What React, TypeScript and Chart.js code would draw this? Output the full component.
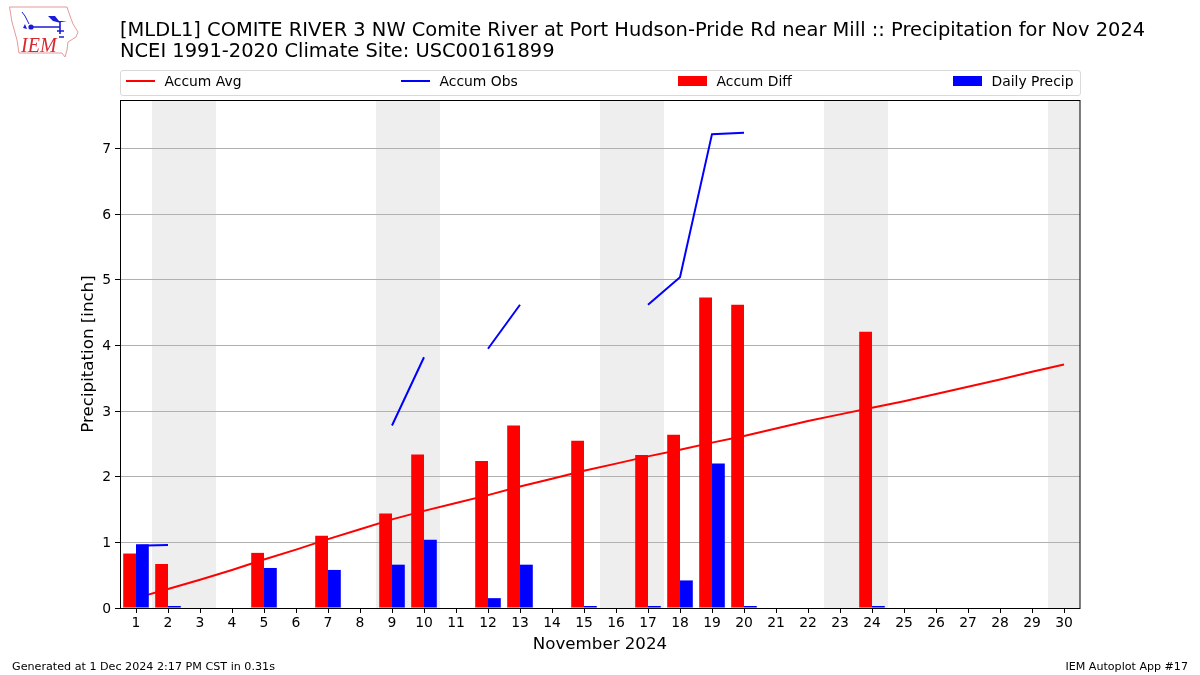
import React, { useEffect, useRef } from "react";
import { Chart, registerables } from "chart.js";

Chart.register(...registerables);

const days = Array.from({ length: 30 }, (_, i) => String(i + 1));
const weekendDays = [2, 3, 9, 10, 16, 17, 23, 24, 30];
const accumAvg = [0.15, 0.29, 0.43, 0.58, 0.74, 0.89, 1.05, 1.2, 1.35, 1.48, 1.6, 1.72, 1.85, 1.97, 2.09, 2.2, 2.31, 2.41, 2.52, 2.62, 2.735, 2.85, 2.95, 3.05, 3.15, 3.26, 3.37, 3.48, 3.6, 3.71];
const accumObs = [0.95, 0.96, null, null, null, null, null, null, 2.78, 3.82, null, 3.95, 4.62, null, null, null, 4.62, 5.04, 7.22, 7.24, null, null, null, null, null, null, null, null, null, null];
const accumDiff = [0.83, 0.67, null, null, 0.84, null, 1.1, null, 1.44, 2.34, null, 2.24, 2.78, null, 2.55, null, 2.33, 2.64, 4.73, 4.62, null, null, null, 4.21, null, null, null, null, null, null];
const dailyPrecip = [0.97, 0.01, null, null, 0.61, null, 0.58, null, 0.66, 1.04, null, 0.15, 0.66, null, 0.01, null, 0.01, 0.42, 2.2, 0.01, null, null, null, 0.01, null, null, null, null, null, null];
const yMax = 7.74;
const yTicks = [0, 1, 2, 3, 4, 5, 6, 7];

const FONT = "'DejaVu Sans'";
const titleLines = [
  "[MLDL1] COMITE RIVER 3 NW Comite River at Port Hudson-Pride Rd near Mill :: Precipitation for Nov 2024",
  "NCEI 1991-2020 Climate Site: USC00161899",
];
const legendItems = [
  { label: "Accum Avg", color: "#ff0000", kind: "line", left: 5 },
  { label: "Accum Obs", color: "#0000ff", kind: "line", left: 280 },
  { label: "Accum Diff", color: "#ff0000", kind: "bar", left: 557 },
  { label: "Daily Precip", color: "#0000ff", kind: "bar", left: 832 },
];

const shadePlugin = {
  id: "shade",
  beforeDraw(chart: any) {
    const { ctx, chartArea, scales } = chart;
    const step = scales.x.getPixelForValue(1) - scales.x.getPixelForValue(0);
    ctx.save();
    ctx.fillStyle = "#eeeeee";
    weekendDays.forEach((d) => {
      const c = scales.x.getPixelForValue(d - 1);
      const l = Math.max(c - step / 2, chartArea.left);
      const r = Math.min(c + step / 2, chartArea.right);
      ctx.fillRect(l, chartArea.top, r - l, chartArea.bottom - chartArea.top);
    });
    ctx.restore();
  },
  afterDraw(chart: any) {
    const { ctx, chartArea: a } = chart;
    ctx.save();
    ctx.strokeStyle = "#000";
    ctx.lineWidth = 1;
    ctx.strokeRect(a.left + 0.5, a.top + 0.5, a.right - a.left - 0.5, a.bottom - a.top);
    ctx.restore();
  },
};

export default function App() {
  const ref = useRef<HTMLCanvasElement>(null);
  useEffect(() => {
    const chart = new Chart(ref.current as HTMLCanvasElement, {
      type: "bar",
      data: {
        labels: days,
        datasets: [
          { type: "line", label: "Accum Avg", data: accumAvg, borderColor: "#ff0000", borderWidth: 2, pointRadius: 0, order: 2, spanGaps: false },
          { type: "line", label: "Accum Obs", data: accumObs, borderColor: "#0000ff", borderWidth: 2, pointRadius: 0, order: 2, spanGaps: false },
          { type: "bar", label: "Accum Diff", data: accumDiff, backgroundColor: "#ff0000", categoryPercentage: 0.8, barPercentage: 1, order: 1 },
          { type: "bar", label: "Daily Precip", data: dailyPrecip, backgroundColor: "#0000ff", categoryPercentage: 0.8, barPercentage: 1, minBarLength: 2, order: 1 },
        ] as any,
      },
      options: {
        responsive: false,
        animation: false,
        layout: { padding: { left: 79, right: 120, top: 100, bottom: 20 } },
        plugins: { legend: { display: false }, title: { display: false }, tooltip: { enabled: false } },
        scales: {
          x: {
            type: "category",
            offset: true,
            afterFit: (s: any) => { s.height = 47; },
            border: { display: false },
            grid: { offset: false, drawOnChartArea: false, drawTicks: true, tickLength: 5, color: "#000" },
            ticks: { color: "#000", font: { family: FONT, size: 13.9 }, padding: 2, maxRotation: 0, autoSkip: false },
            title: { display: true, text: "November 2024", color: "#000", font: { family: FONT, size: 16.67 }, padding: 0 },
          },
          y: {
            min: 0,
            max: yMax,
            afterFit: (s: any) => { s.width = 41; },
            afterBuildTicks: (s: any) => { s.ticks = yTicks.map((value) => ({ value })); },
            border: { display: false },
            grid: { color: "#b0b0b0", lineWidth: 1, tickColor: "#000", tickLength: 5 },
            ticks: { color: "#000", font: { family: FONT, size: 13.9 }, padding: 4, labelOffset: 1 },
            title: { display: true, text: "Precipitation [inch]", color: "#000", font: { family: FONT, size: 16.67 }, padding: 0 },
          },
        },
      },
      plugins: [shadePlugin],
    } as any);
    return () => chart.destroy();
  }, []);

  const abs: React.CSSProperties = { position: "absolute", fontFamily: FONT, color: "#000", whiteSpace: "nowrap" };
  return (
    <div style={{ position: "absolute", left: 0, top: 0, width: 1200, height: 675, background: "#fff", overflow: "hidden" }}>
      <canvas ref={ref} width={1200} height={675} style={{ position: "absolute", left: 0, top: 0 }} />
      <svg width="90" height="62" style={{ position: "absolute", left: 0, top: 0 }} viewBox="0 0 90 62">
        <path d="M9.5 7 L67 7 L70 16 L73 24 L78 32 L76 37 L68 42 L67 50 L65 57 L62 53 L19 53 L17 40 L12 22 Z" fill="#fff" stroke="#e39a9a" strokeWidth="1" />
        <path d="M31 27 H60 M60 22 V34 M57 31 H64 M59 37 H64" stroke="#1c1cd8" strokeWidth="1.6" fill="none" />
        <path d="M48 16 L55 16 L59 21 L67 21 L59 22.5 L53 21 Z" fill="#1c1cd8" />
        <circle cx="31" cy="27" r="2.6" fill="#1c1cd8" />
        <path d="M22 12 L25 16 L29 24" stroke="#1c1cd8" strokeWidth="1" fill="none" />
        <path d="M23 28 L25 24 L27 29 Z" fill="#1c1cd8" />
        <text x="21" y="52" fontFamily="'Liberation Serif'" fontStyle="italic" fontSize="20" fill="#d8282f">IEM</text>
      </svg>
      {titleLines.map((t, i) => (
        <div key={t} style={{ ...abs, left: 120, top: 18 + i * 21, fontSize: 19.45, lineHeight: "23px" }}>{t}</div>
      ))}
      <div style={{ position: "absolute", boxSizing: "border-box", left: 120, top: 70, width: 961, height: 25.5, border: "1px solid #d9d9d9", borderRadius: 3, background: "#fff" }}>
        {legendItems.map((it) => (
          <div key={it.label} style={{ position: "absolute", left: it.left, top: 0, height: 20, display: "flex", alignItems: "center", fontFamily: FONT, fontSize: 13.9, color: "#000", whiteSpace: "nowrap" }}>
            <span style={{ display: "inline-block", width: 29, height: it.kind === "line" ? 2 : 9.5, background: it.color, marginRight: 9.5 }} />
            {it.label}
          </div>
        ))}
      </div>
      <div style={{ ...abs, left: 12, top: 660, fontSize: 11.15 }}>Generated at 1 Dec 2024 2:17 PM CST in 0.31s</div>
      <div style={{ ...abs, right: 12, top: 660, fontSize: 11.1 }}>IEM Autoplot App #17</div>
    </div>
  );
}
